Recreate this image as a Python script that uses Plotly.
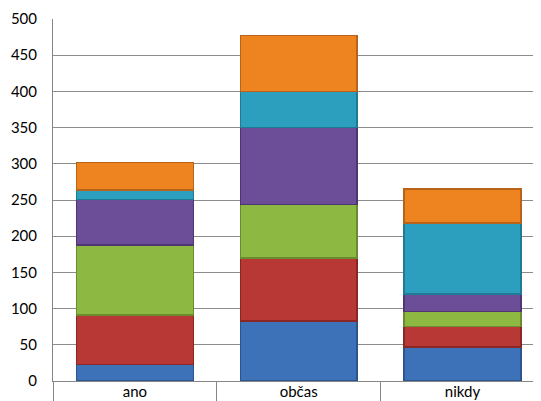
import plotly.graph_objects as go

categories = ["ano", "občas", "nikdy"]
series_names = ["Řada 1", "Řada 2", "Řada 3", "Řada 4", "Řada 5", "Řada 6"]
series_values = [
    [23, 83, 47],    # blue
    [68, 87, 28],    # red
    [97, 74, 21],    # green
    [63, 106, 24],   # purple
    [13, 50, 98],    # cyan
    [38, 77, 47],    # orange
]
colors = ["#3E72B8", "#B83835", "#8DB842", "#6C4D98", "#2C9FBE", "#EE841F"]
edge_colors = ["#2B558E", "#8A2624", "#6A8C2E", "#4E3672", "#1F7A93", "#B8631A"]
y_ticks = [0, 50, 100, 150, 200, 250, 300, 350, 400, 450, 500]

fig = go.Figure()
for name, vals, c, ec in zip(series_names, series_values, colors, edge_colors):
    fig.add_trace(go.Bar(
        x=categories, y=vals, name=name,
        marker=dict(color=c, line=dict(color=ec, width=1.5)),
        width=0.713,
    ))

# page body has an 8px default margin, so the figure is offset by 8px
fig.update_layout(
    barmode="stack",
    width=541, height=401,
    margin=dict(l=44.5, r=8, t=11, b=27.5, autoexpand=False),
    paper_bgcolor="white", plot_bgcolor="white",
    showlegend=False,
    font=dict(family="Lato, Liberation Sans, Arial, sans-serif", size=15, color="#000000"),
)
fig.update_xaxes(
    type="category",
    range=[-0.5, 2.479],
    automargin=False,
    showline=True, linecolor="#868686", linewidth=1,
    ticks="outside", tickson="boundaries", ticklen=22, tickcolor="#868686", tickwidth=1,
    ticklabelstandoff=-3,
    tickfont=dict(size=15),
    showgrid=False, zeroline=False,
)
fig.update_yaxes(
    range=[0, 500],
    automargin=False,
    tickvals=y_ticks,
    showline=True, linecolor="#868686", linewidth=1,
    showgrid=True, gridcolor="#8C8C8C", gridwidth=1,
    zeroline=False,
    ticks="", ticklabelstandoff=12,
    tickfont=dict(size=15),
)

fig.write_html("out.html")
